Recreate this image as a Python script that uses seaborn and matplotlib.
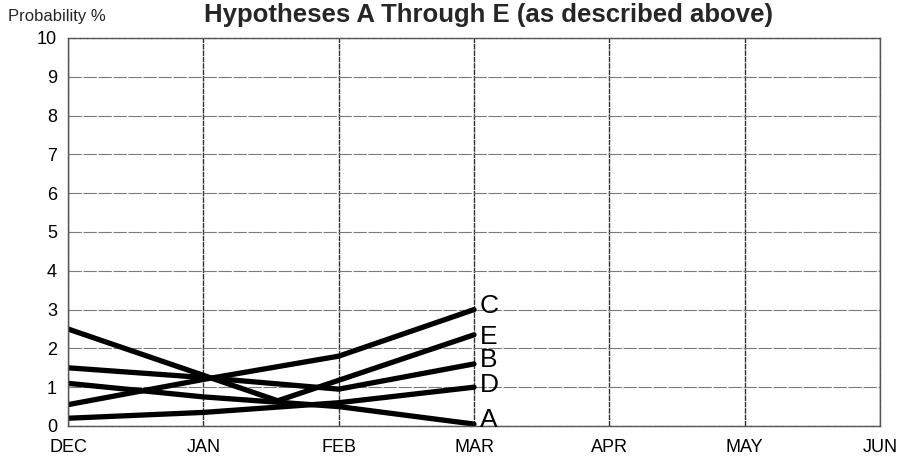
import matplotlib
matplotlib.use("Agg")
import matplotlib.pyplot as plt
import seaborn as sns
import pandas as pd

# ---- data ----
months = ["DEC", "JAN", "FEB", "MAR", "APR", "MAY", "JUN"]
series_names = ["A", "B", "C", "D", "E"]
a_x = [0, 1, 2, 3]
a_y = [1.1, 0.75, 0.5, 0.05]
b_x = [0, 1, 2, 3]
b_y = [1.5, 1.25, 0.95, 1.6]
c_x = [0, 1, 2, 3]
c_y = [0.55, 1.2, 1.8, 3.0]
d_x = [0, 1, 2, 3]
d_y = [0.2, 0.35, 0.6, 1.0]
e_x = [0, 1.55, 3]
e_y = [2.5, 0.65, 2.35]
y_ticks = list(range(0, 11))

xs = {"A": a_x, "B": b_x, "C": c_x, "D": d_x, "E": e_x}
ys = {"A": a_y, "B": b_y, "C": c_y, "D": d_y, "E": e_y}
rows = []
for s in series_names:
    for x, y in zip(xs[s], ys[s]):
        rows.append({"series": s, "month": x, "prob": y})
df = pd.DataFrame(rows)

sns.set_theme(style="white")
plt.rcParams["font.family"] = ["Liberation Sans", "DejaVu Sans"]

fig = plt.figure(figsize=(9.02, 4.62), dpi=100)
ax = fig.add_axes([68 / 902, 1 - 426 / 462, (880 - 68) / 902, (426 - 38) / 462])

sns.lineplot(data=df, x="month", y="prob", units="series", estimator=None,
             color="black", linewidth=3.8, sort=False, ax=ax, legend=False)

ax.set_xlim(0, 6)
ax.set_ylim(0, 10)
ax.set_xticks(range(len(months)))
ax.set_xticklabels(months, fontsize=13)
ax.set_yticks(y_ticks)
ax.set_yticklabels([str(t) for t in y_ticks], fontsize=13)
ax.tick_params(axis="both", length=0, colors="black")
ax.tick_params(axis="x", pad=9)
ax.tick_params(axis="y", pad=8)
ax.set_xlabel("")
ax.set_ylabel("")

ax.grid(True, axis="y", color="#7a7a7a", linewidth=0.8, linestyle=(0, (12, 1.5)))
ax.grid(True, axis="x", color="#333333", linewidth=1.0, linestyle=(0, (4, 0.6)))
for sp in ax.spines.values():
    sp.set_color("#555555")
    sp.set_linewidth(1.0)
    sp.set_linestyle((0, (4, 0.6)))

# end labels
label_nudge = {"C": 0.1, "E": -0.05, "B": 0.1, "D": 0.05, "A": 0.1}
for s in series_names:
    ax.annotate(s, xy=(xs[s][-1], ys[s][-1] + label_nudge[s]), xytext=(4, 0),
                textcoords="offset points", fontsize=19, va="center", ha="left",
                color="black", annotation_clip=False)

fig.text(8 / 902, 1 - 17 / 462, "Probability %", fontsize=12, va="center", ha="left")
fig.text(488 / 902, 1 - 15 / 462, "Hypotheses A Through E (as described above)",
         fontsize=18.5, fontweight="bold", va="center", ha="center")

fig.savefig("out.png", dpi=100)
